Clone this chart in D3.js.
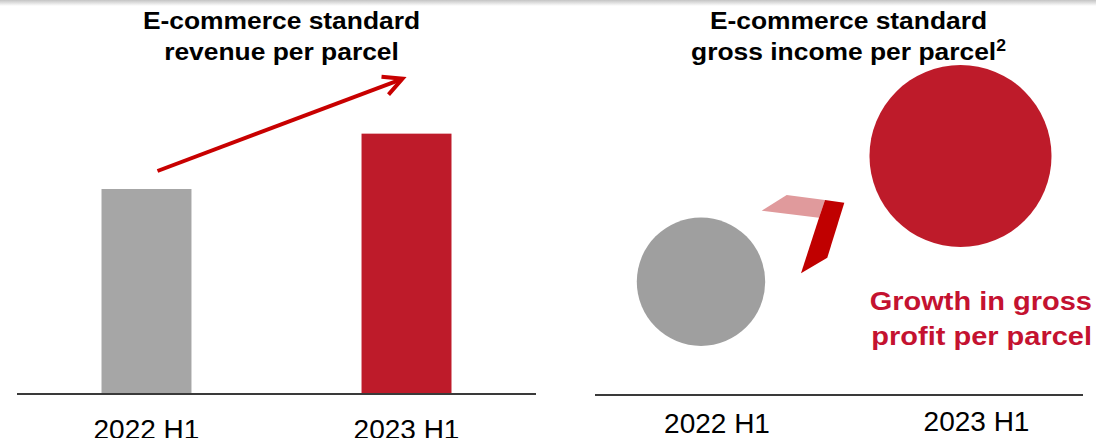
<!DOCTYPE html>
<html>
<head>
<meta charset="utf-8">
<script src="https://cdn.jsdelivr.net/npm/d3@7"></script>
<style>
  html, body { margin: 0; padding: 0; background: #fff; }
  svg { display: block; font-family: "Liberation Sans", Arial, sans-serif; }
</style>
</head>
<body>
<svg id="chart" width="1096" height="438"></svg>
<script>
// ---- data ----
const categories = ["2022 H1", "2023 H1"];
const revenueIndex = [100, 127];      // e-commerce standard revenue per parcel (relative)
const grossIndex = [100, 201];        // e-commerce standard gross income per parcel (relative, circle area)
const leftTitle = ["E-commerce standard", "revenue per parcel"];
const rightTitle = ["E-commerce standard", "gross income per parcel"];
const rightTitleSup = "2";
const growthNote = ["Growth in gross", "profit per parcel"];

// ---- colours ----
const RED = "#be1b2a", GREY_BAR = "#a6a6a6", GREY_CIRCLE = "#9f9f9f", ARROW = "#c80000";

const svg = d3.select("#chart");

// top shadow
const defs = svg.append("defs");
const g0 = defs.append("linearGradient").attr("id", "shadow").attr("x1", 0).attr("y1", 0).attr("x2", 0).attr("y2", 1);
g0.append("stop").attr("offset", "0%").attr("stop-color", "#c4c4c4");
g0.append("stop").attr("offset", "100%").attr("stop-color", "#ffffff");
svg.append("rect").attr("x", 0).attr("y", 0).attr("width", 1096).attr("height", 6).attr("fill", "url(#shadow)");

function boldText(sel, x, y, txt, size, sx, anchor, fill) {
  return sel.append("text")
    .attr("transform", `translate(${x},${y}) scale(${sx},1)`)
    .attr("text-anchor", anchor)
    .attr("font-size", size)
    .attr("font-weight", "bold")
    .attr("fill", fill)
    .text(txt);
}

// ================= LEFT PANEL: bars =================
const baseY = 394;
const xL = d3.scaleBand().domain(categories).range([17, 536]).paddingInner(0.654).paddingOuter(0.325);
const yL = d3.scaleLinear().domain([0, 100]).range([baseY, 189]);

const left = svg.append("g");
left.selectAll("rect.bar").data(categories).join("rect")
  .attr("class", "bar")
  .attr("x", d => xL(d))
  .attr("y", (d, i) => yL(revenueIndex[i]))
  .attr("width", xL.bandwidth())
  .attr("height", (d, i) => baseY - yL(revenueIndex[i]))
  .attr("fill", (d, i) => i === 0 ? GREY_BAR : RED);

// baseline
left.append("line").attr("x1", 17).attr("x2", 536).attr("y1", baseY).attr("y2", baseY)
  .attr("stroke", "#3a3a3a").attr("stroke-width", 2);

// category labels
left.selectAll("text.cat").data(categories).join("text")
  .attr("class", "cat")
  .attr("x", d => xL(d) + xL.bandwidth() / 2)
  .attr("y", 439)
  .attr("text-anchor", "middle")
  .attr("font-size", 28)
  .attr("fill", "#000")
  .text(d => d);

// titles
const lcx = 281.5;
boldText(left, lcx, 28.5, leftTitle[0], 24, 1.1, "middle", "#000");
boldText(left, lcx, 60, leftTitle[1], 24, 1.1, "middle", "#000");

// growth arrow (from above grey bar to above red bar)
const aStart = [xL(categories[0]) + xL.bandwidth() / 2 + 11, yL(revenueIndex[0]) - 18];
const aEnd = [xL(categories[1]) + xL.bandwidth() / 2 - 4, yL(revenueIndex[1]) - 55];
left.append("line")
  .attr("x1", aStart[0]).attr("y1", aStart[1]).attr("x2", aEnd[0] - 2).attr("y2", aEnd[1] + 1)
  .attr("stroke", ARROW).attr("stroke-width", 4);
left.append("path")
  .attr("d", `M${aEnd[0] - 21},${aEnd[1] - 2} L${aEnd[0]},${aEnd[1]} L${aEnd[0] - 14},${aEnd[1] + 16}`)
  .attr("fill", "none").attr("stroke", ARROW).attr("stroke-width", 4)
  .attr("stroke-linecap", "butt").attr("stroke-linejoin", "miter");

// ================= RIGHT PANEL: circles =================
const baseY2 = 395;
const xR = d3.scalePoint().domain(categories).range([717, 976.5]);
const rR = d3.scaleSqrt().domain([0, 100]).range([0, 64.2]);
const circleCY = [281.7, 156];

const right = svg.append("g");
right.selectAll("circle").data(categories).join("circle")
  .attr("cx", d => xR(d) - 16)
  .attr("cy", (d, i) => circleCY[i])
  .attr("r", (d, i) => rR(grossIndex[i]))
  .attr("fill", (d, i) => i === 0 ? GREY_CIRCLE : RED);

right.append("line").attr("x1", 595).attr("x2", 1083).attr("y1", baseY2).attr("y2", baseY2)
  .attr("stroke", "#3a3a3a").attr("stroke-width", 2);

const labelY = [433, 431];
right.selectAll("text.cat").data(categories).join("text")
  .attr("class", "cat")
  .attr("x", d => xR(d))
  .attr("y", (d, i) => labelY[i])
  .attr("text-anchor", "middle")
  .attr("font-size", 28)
  .attr("fill", "#000")
  .text(d => d);

const rcx = 848.5;
boldText(right, rcx, 28.5, rightTitle[0], 24, 1.1, "middle", "#000");
const t2 = boldText(right, rcx, 60, rightTitle[1], 24, 1.1, "middle", "#000");
t2.append("tspan").attr("dy", -9).attr("font-size", 16).text(rightTitleSup);

// chevron decoration
const ax = 825, ay = 200;
const pink = [[-63.3, 10.7], [-38.3, -5], [0, 0], [-6, 17.7]];
const redC = [[0, 0], [19.3, 2.7], [2.3, 57.7], [-24, 73.3], [-6, 17.7]];
const line = d3.line();
right.append("path").attr("d", line(pink.map(p => [ax + p[0], ay + p[1]])) + "Z").attr("fill", "#e09a9c");
right.append("path").attr("d", line(redC.map(p => [ax + p[0], ay + p[1]])) + "Z").attr("fill", "#c00000");

// growth note
boldText(right, 1092, 309.5, growthNote[0], 25, 1.16, "end", "#c41230");
boldText(right, 1092, 344.5, growthNote[1], 25, 1.16, "end", "#c41230");
</script>
</body>
</html>
